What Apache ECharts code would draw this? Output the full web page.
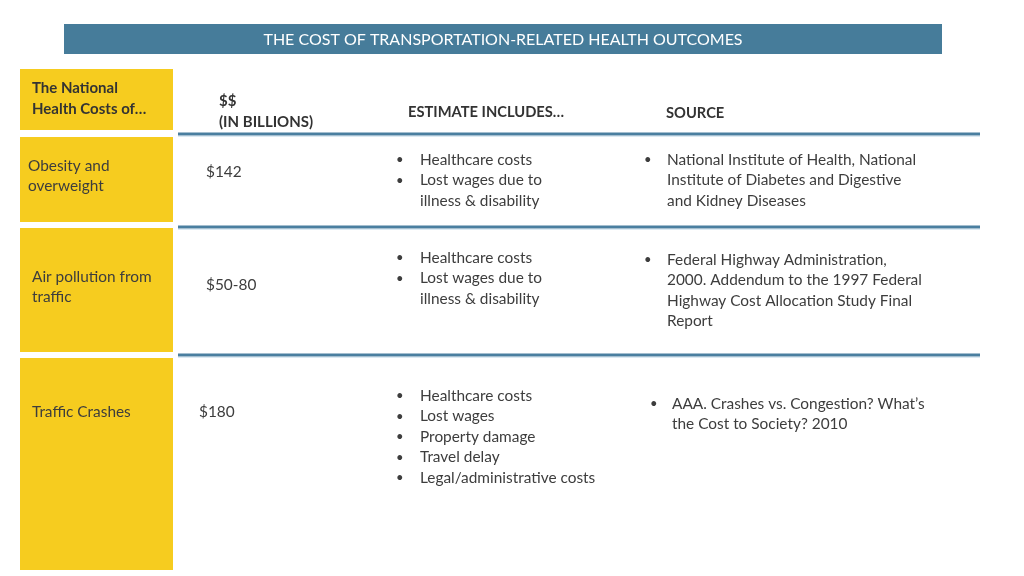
<!DOCTYPE html>
<html><head><meta charset="utf-8">
<script src="https://cdn.jsdelivr.net/npm/echarts@6/dist/echarts.min.js"></script>
<style>html,body{margin:0;padding:0;background:#fff}#c{width:1024px;height:576px}</style>
</head><body><div id="c"></div>
<script>
const title = "THE COST OF TRANSPORTATION-RELATED HEALTH OUTCOMES";
const headers = ["The National\nHealth Costs of…", "$$\n(IN BILLIONS)", "ESTIMATE INCLUDES…", "SOURCE"];
const categories = ["Obesity and\noverweight", "Air pollution from\ntraffic", "Traffic Crashes"];
const costs = ["$142", "$50-80", "$180"];
const includes = [
  ["Healthcare costs", "Lost wages due to\nillness & disability"],
  ["Healthcare costs", "Lost wages due to\nillness & disability"],
  ["Healthcare costs", "Lost wages", "Property damage", "Travel delay", "Legal/administrative costs"]
];
const sources = [
  ["National Institute of Health, National\nInstitute of Diabetes and Digestive\nand Kidney Diseases"],
  ["Federal Highway Administration,\n2000. Addendum to the 1997 Federal\nHighway Cost Allocation Study Final\nReport"],
  ["AAA. Crashes vs. Congestion? What’s\nthe Cost to Society? 2010"]
];

const FONT = 'Lato, "Open Sans", sans-serif';
const TXT = '#3d3d3d';
const YEL = '#F6CC1F';
const BLUE = '#4A7FA0';
const LH = 20.5;

// layout (pixels)
const rowBoxes = [[137, 222], [228, 352], [358, 570]];
const catY = [166, 277, 412];
const catX = [28, 32, 32];
const costXY = [[206, 172], [206, 285], [199, 412]];
const incY = [160, 258, 396];
const srcXY = [[645, 667, 160], [645, 667, 260], [651, 672, 404]];
const lineY = [134, 227, 355];

const g = [];
function txt(x, y, s, opt) {
  g.push({type: 'text', x: x, y: y, silent: true, style: Object.assign({
    text: s, fill: TXT, font: '15.4px ' + FONT, textVerticalAlign: 'middle', lineHeight: LH
  }, opt || {})});
}
// title bar
g.push({type: 'rect', shape: {x: 64, y: 24, width: 878, height: 30}, style: {fill: '#467C9A'}});
txt(503, 39.5, title, {fill: '#fff', textAlign: 'center', font: '16px ' + FONT});
// header box
g.push({type: 'rect', shape: {x: 20, y: 69, width: 153, height: 61}, style: {fill: YEL}});
txt(32, 98.5, headers[0], {font: 'bold 15px ' + FONT, fill: '#333', lineHeight: 21});
txt(219, 111.5, headers[1], {font: 'bold 15px ' + FONT, fill: '#333', lineHeight: 21});
txt(408, 112, headers[2], {font: 'bold 14.7px ' + FONT, fill: '#333'});
txt(666, 113, headers[3], {font: 'bold 14.7px ' + FONT, fill: '#333'});
// lines
lineY.forEach(y => {
  g.push({type: 'line', shape: {x1: 178, y1: y, x2: 980, y2: y}, style: {stroke: BLUE, lineWidth: 3}});
  g.push({type: 'line', shape: {x1: 178, y1: y + 2.5, x2: 980, y2: y + 2.5}, style: {stroke: '#DCEAF3', lineWidth: 1}});
});
categories.forEach((c, i) => {
  const b = rowBoxes[i];
  g.push({type: 'rect', shape: {x: 20, y: b[0], width: 153, height: b[1] - b[0]}, style: {fill: YEL}});
  const n = c.split('\n').length;
  txt(catX[i], catY[i] + (n - 1) * LH / 2, c);
  txt(costXY[i][0], costXY[i][1], costs[i]);
  let y = incY[i];
  includes[i].forEach(s => {
    const n2 = s.split('\n').length;
    txt(396, y, '•', {font: '13px ' + FONT});
    txt(420, y + (n2 - 1) * LH / 2, s);
    y += n2 * LH;
  });
  const sx = srcXY[i];
  let sy = sx[2];
  sources[i].forEach(s => {
    const n3 = s.split('\n').length;
    txt(sx[0] - 1, sy, '•', {font: '13px ' + FONT});
    txt(sx[1], sy + (n3 - 1) * LH / 2, s);
    sy += n3 * LH;
  });
});

const chart = echarts.init(document.getElementById('c'), null, {renderer: 'canvas'});
chart.setOption({animation: false, backgroundColor: '#fff', graphic: {elements: g}});
</script></body></html>
